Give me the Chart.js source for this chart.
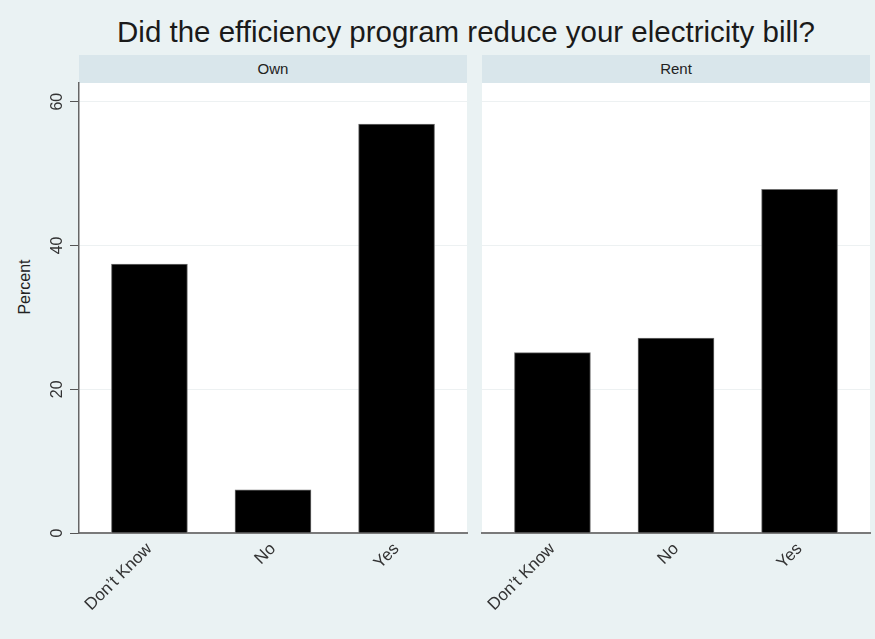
<!DOCTYPE html>
<html>
<head>
<meta charset="utf-8">
<script src="https://cdn.jsdelivr.net/npm/chart.js@4.4.1/dist/chart.umd.min.js"></script>
<style>
  body {
    margin: 0;
    width: 875px;
    height: 639px;
    background: #eaf2f3;
    font-family: "Liberation Sans", Arial, Helvetica, sans-serif;
    position: relative;
    overflow: hidden;
  }
  canvas { position: absolute; top: 0; }
  #titulo {
    position: absolute; top: 15px; left: 466px;
    transform: translateX(-50%);
    white-space: nowrap; font-size: 29.5px; color: #1a1a1a;
  }
  .cabecera {
    position: absolute; top: 55px; height: 28px; width: 388px;
    background: #d9e6eb; color: #222; font-size: 15px;
    text-align: center; line-height: 28px;
  }
  #ytitulo {
    position: absolute; left: 25px; top: 287px;
    transform: translate(-50%, -50%) rotate(-90deg);
    font-size: 16px; color: #222; white-space: nowrap;
  }
</style>
</head>
<body>
<div id="titulo">Did the efficiency program reduce your electricity bill?</div>
<div class="cabecera" style="left:79px">Own</div>
<div class="cabecera" style="left:482px">Rent</div>
<div id="ytitulo">Percent</div>
<canvas id="panelOwn" width="470" height="639" style="left:0"></canvas>
<canvas id="panelRent" width="405" height="639" style="left:470px"></canvas>
<script>
// Datos
const categorias = ["Don’t Know", "No", "Yes"];
const valoresOwn = [37.4, 6.0, 56.9];
const valoresRent = [25.1, 27.1, 47.8];
const ticksY = [0, 20, 40, 60];

// Fondo blanco del área de trazado
const fondoBlanco = {
  id: "fondoBlanco",
  beforeDraw(chart) {
    const { ctx, chartArea: a } = chart;
    ctx.save();
    ctx.fillStyle = "#ffffff";
    ctx.fillRect(a.left, a.top, a.right - a.left, a.bottom - a.top);
    ctx.restore();
  },
};

function crearPanel(id, valores, conEjeY, padding) {
  return new Chart(document.getElementById(id), {
    type: "bar",
    data: {
      datasets: [
        {
          data: valores.map((v, i) => ({ x: i, y: v })),
          backgroundColor: "#000000",
          borderColor: "#6e6e6e",
          borderWidth: 1,
          barThickness: 76,
        },
      ],
    },
    options: {
      responsive: false,
      animation: false,
      layout: { padding },
      plugins: { legend: { display: false }, tooltip: { enabled: false } },
      scales: {
        x: {
          type: "linear",
          min: -0.57,
          max: 2.57,
          offset: false,
          afterBuildTicks: (s) => {
            s.ticks = categorias.map((c, i) => ({ value: i }));
          },
          afterFit: (s) => {
            s.height = 106;
            s.paddingLeft = 0;
            s.paddingRight = 0;
          },
          grid: { display: false, drawTicks: false, offset: false },
          border: { display: true, color: "#7a7a7a", width: 2 },
          ticks: {
            autoSkip: false,
            minRotation: 45,
            maxRotation: 45,
            padding: 6,
            color: "#333",
            font: { size: 17 },
            callback: (v) => categorias[v],
          },
        },
        y: {
          min: 0,
          max: 62.6,
          afterBuildTicks: (s) => {
            s.ticks = ticksY.map((v) => ({ value: v }));
          },
          afterFit: (s) => {
            s.width = conEjeY ? 79 : 0;
          },
          grid: {
            color: "#edf1f2",
            lineWidth: 1,
            drawTicks: conEjeY,
            tickLength: 9,
            tickColor: "#555",
          },
          border: { display: conEjeY, color: "#666", width: 1.5 },
          ticks: {
            display: conEjeY,
            minRotation: 90,
            maxRotation: 90,
            crossAlign: "center",
            padding: 4,
            color: "#333",
            font: { size: 16 },
          },
        },
      },
    },
    plugins: [fondoBlanco],
  });
}

crearPanel("panelOwn", valoresOwn, true, { top: 83, left: 0, right: 3, bottom: 0 });
crearPanel("panelRent", valoresRent, false, { top: 83, left: 12, right: 5, bottom: 0 });
</script>
</body>
</html>
